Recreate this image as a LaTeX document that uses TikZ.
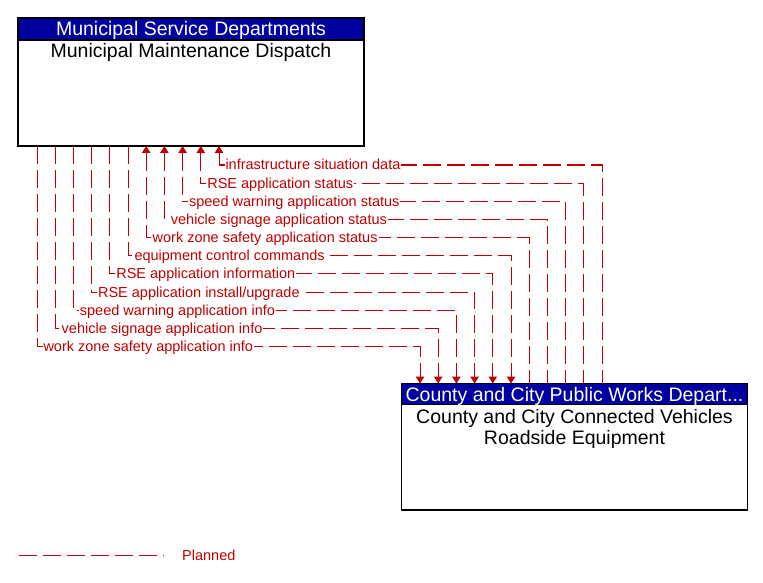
\documentclass[tikz,border=0pt]{standalone}
\usepackage{fontspec}
\setmainfont{Liberation Sans}
\usetikzlibrary{arrows.meta}
\definecolor{flowred}{RGB}{192,0,0}
\definecolor{hdrblue}{RGB}{0,0,160}
\tikzset{
  hdr/.style={draw=black, line width=1.2pt, fill=hdrblue, text=white, outer sep=0pt, inner sep=0pt,
    font=\fontsize{19.5}{21}\selectfont, text height=14pt, text depth=0pt},
  body/.style={draw=black, line width=1.2pt, fill=white, outer sep=0pt, inner sep=0pt},
  btext/.style={font=\fontsize{19.5}{21}\selectfont, anchor=base, inner sep=0pt},
  flow/.style={draw=flowred, line width=1pt, dash pattern=on 18pt off 6pt},
  upflow/.style={flow, {Triangle[length=7pt,width=8.5pt]}-},
  downflow/.style={flow, -{Triangle[length=7pt,width=8.5pt]}},
  lab/.style={font=\fontsize{14.5}{16}\selectfont, text=flowred, fill=white, inner sep=1pt,
    anchor=base west, xshift=5pt, yshift=-5pt},
}
\begin{document}
\begin{tikzpicture}[x=1pt, y=-1pt]
\useasboundingbox (0,0) rectangle (763,583);
% Municipal Maintenance Dispatch
\node[body, anchor=north west, minimum width=346pt, minimum height=106pt] (mmd) at (18,40) {};
\node[hdr, anchor=north west, minimum width=346pt, minimum height=22pt] (mmdh) at (18,18) {Municipal Service Departments};
\node[btext] (mmdt) at ([yshift=-18pt]mmd.north) {Municipal Maintenance Dispatch};
% Roadside Equipment
\node[body, anchor=north west, minimum width=346pt, minimum height=105.5pt] (rse) at (401.5,404.5) {};
\node[hdr, anchor=north west, minimum width=346pt, minimum height=21pt] (rseh) at (401.5,383.5) {County and City Public Works Depart...};
\node[btext] (rset1) at ([yshift=-19pt]rse.north) {County and City Connected Vehicles};
\node[btext] (rset2) at ([yshift=-40pt]rse.north) {Roadside Equipment};
% flows into the dispatch
\draw[upflow] ([xshift=201pt]mmd.south west) -- ++(0,19) node[lab]{infrastructure situation data} -| ([xshift=200.5pt]rseh.north west);
\draw[upflow] ([xshift=182.8pt]mmd.south west) -- ++(0,37.2) node[lab]{RSE application status} -| ([xshift=182.3pt]rseh.north west);
\draw[upflow] ([xshift=164.6pt]mmd.south west) -- ++(0,55.3) node[lab]{speed warning application status} -| ([xshift=164.1pt]rseh.north west);
\draw[upflow] ([xshift=146.4pt]mmd.south west) -- ++(0,73.5) node[lab]{vehicle signage application status} -| ([xshift=145.9pt]rseh.north west);
\draw[upflow] ([xshift=128.2pt]mmd.south west) -- ++(0,91.6) node[lab]{work zone safety application status} -| ([xshift=127.7pt]rseh.north west);
% flows to the roadside equipment
\draw[downflow] ([xshift=110pt]mmd.south west) -- ++(0,109.8) node[lab]{equipment control commands} -| ([xshift=109.5pt]rseh.north west);
\draw[downflow] ([xshift=91.8pt]mmd.south west) -- ++(0,127.9) node[lab]{RSE application information} -| ([xshift=91.3pt]rseh.north west);
\draw[downflow] ([xshift=73.6pt]mmd.south west) -- ++(0,146.1) node[lab]{RSE application install/upgrade} -| ([xshift=73.1pt]rseh.north west);
\draw[downflow] ([xshift=55.4pt]mmd.south west) -- ++(0,164.2) node[lab]{speed warning application info} -| ([xshift=54.9pt]rseh.north west);
\draw[downflow] ([xshift=37.2pt]mmd.south west) -- ++(0,182.4) node[lab]{vehicle signage application info} -| ([xshift=36.7pt]rseh.north west);
\draw[downflow] ([xshift=19pt]mmd.south west) -- ++(0,200.5) node[lab]{work zone safety application info} -| ([xshift=18.5pt]rseh.north west);
% legend
\coordinate (lg1) at (19,555);
\coordinate (lg2) at (164,555);
\draw[flow] (lg1) -- (lg2);
\node[font=\fontsize{14.5}{16}\selectfont, text=flowred, anchor=base west, inner sep=0pt] (lgt) at (182,560) {Planned};
\end{tikzpicture}
\end{document}
